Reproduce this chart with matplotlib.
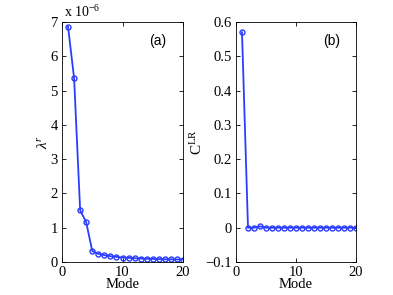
import matplotlib
matplotlib.use("Agg")
import matplotlib.pyplot as plt

plt.rcParams['font.family'] = ['Liberation Serif', 'DejaVu Serif']
plt.rcParams['mathtext.fontset'] = 'custom'
plt.rcParams['mathtext.rm'] = 'Liberation Serif'
plt.rcParams['mathtext.it'] = 'Liberation Serif:italic'

modes = list(range(1, 21))
lam_r = [6.86, 5.36, 1.51, 1.16, 0.32, 0.24, 0.20, 0.17, 0.15, 0.13,
         0.12, 0.11, 0.10, 0.095, 0.09, 0.085, 0.08, 0.078, 0.075, 0.072]  # x 1e-6
c_lr = [0.57, 0.0, 0.0, 0.004, 0.0, 0.0, 0.0, 0.0, 0.0, 0.0,
        0.0, 0.0, 0.0, 0.0, 0.0, 0.0, 0.0, 0.0, 0.0, 0.0]

color = '#2a3cff'
fig = plt.figure(figsize=(3.93, 2.95), dpi=100)
ax1 = fig.add_axes([62/393, 1-262/295, 121/393, 240/295])
ax2 = fig.add_axes([236/393, 1-262/295, 120/393, 240/295])

for ax in (ax1, ax2):
    ax.tick_params(direction='in', top=True, right=True, labelsize=10.5, length=3, width=0.6, pad=3)
    for s in ax.spines.values():
        s.set_linewidth(0.6)
    ax.set_xlim(0, 20)
    ax.set_xticks([0, 10, 20])
    ax.set_xlabel('Mode', fontsize=10.5, labelpad=-1)

ax1.plot(modes, lam_r, '-o', color=color, lw=1.3, ms=3.6, mfc='none', mew=1.0)
ax1.set_ylim(0, 7)
ax1.set_yticks(range(0, 8))
ax1.set_ylabel(r'$\lambda^r$', fontsize=11, labelpad=0)
ax1.text(0.02, 1.01, r'x 10$^{-6}$', transform=ax1.transAxes, fontsize=10, ha='left', va='bottom')
ax1.text(0.79, 0.92, '(a)', transform=ax1.transAxes, fontsize=10, ha='center', va='center', family='Liberation Sans')

ax2.plot(modes, c_lr, '-o', color=color, lw=1.3, ms=3.6, mfc='none', mew=1.0)
ax2.set_ylim(-0.1, 0.6)
ax2.set_yticks([-0.1, 0, 0.1, 0.2, 0.3, 0.4, 0.5, 0.6])
ax2.set_yticklabels(['\u22120.1', '0', '0.1', '0.2', '0.3', '0.4', '0.5', '0.6'])
ax2.set_ylabel(r'C$^{\mathrm{LR}}$', fontsize=11, labelpad=0)
ax2.text(0.80, 0.92, '(b)', transform=ax2.transAxes, fontsize=10, ha='center', va='center', family='Liberation Sans')

fig.savefig('out.png', dpi=100)
